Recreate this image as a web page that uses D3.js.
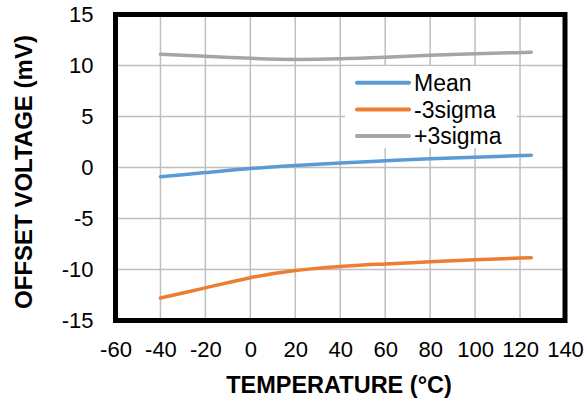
<!DOCTYPE html>
<html>
<head>
<meta charset="utf-8">
<script src="https://cdn.jsdelivr.net/npm/d3@7"></script>
<style>
  body { margin: 0; background: #fff; }
  text { font-family: "Liberation Sans", Arial, sans-serif; }
</style>
</head>
<body>
<svg id="chart" width="587" height="402"></svg>
<script>
// temperature points (°C)
var temps = [-40, -20, 0, 20, 40, 60, 80, 100, 125];
// offset voltage (mV)
var meanVals  = [-0.9, -0.5, -0.1, 0.2, 0.45, 0.65, 0.85, 1.0, 1.2];
var minusVals = [-12.8, -11.8, -10.8, -10.1, -9.7, -9.45, -9.25, -9.05, -8.85];
var plusVals  = [11.1, 10.9, 10.7, 10.6, 10.65, 10.8, 11.0, 11.15, 11.3];

var seriesNames = ["Mean", "-3sigma", "+3sigma"];
var seriesColors = ["#5b9bd5", "#ed7d31", "#a5a5a5"];

var xTicks = [-60, -40, -20, 0, 20, 40, 60, 80, 100, 120, 140];
var yTicks = [-15, -10, -5, 0, 5, 10, 15];

var svg = d3.select("#chart");
var plotLeft = 115.5, plotRight = 565, plotTop = 14.5, plotBottom = 320.5;

var x = d3.scaleLinear().domain([-60, 140]).range([plotLeft, plotRight]);
var y = d3.scaleLinear().domain([-15, 15]).range([plotBottom, plotTop]);

// gridlines
svg.append("g")
  .selectAll("line")
  .data(xTicks)
  .join("line")
  .attr("x1", d => x(d)).attr("x2", d => x(d))
  .attr("y1", plotTop).attr("y2", plotBottom)
  .attr("stroke", "#bfbfbf").attr("stroke-width", 1.5);
svg.append("g")
  .selectAll("line")
  .data(yTicks)
  .join("line")
  .attr("x1", plotLeft).attr("x2", plotRight)
  .attr("y1", d => y(d)).attr("y2", d => y(d))
  .attr("stroke", "#bfbfbf").attr("stroke-width", 1.5);

// axes (labels only, border drawn separately); plain hyphen for negatives
var xAxis = svg.append("g")
  .attr("transform", "translate(0," + plotBottom + ")")
  .call(d3.axisBottom(x).tickValues(xTicks).tickFormat(d => String(d)).tickSize(0).tickPadding(21));
var yAxis = svg.append("g")
  .attr("transform", "translate(" + plotLeft + ",0)")
  .call(d3.axisLeft(y).tickValues(yTicks).tickFormat(d => String(d)).tickSize(0).tickPadding(22));
[xAxis, yAxis].forEach(a => {
  a.select(".domain").remove();
  a.attr("font-size", 22).attr("font-family", null);
  a.selectAll("text").attr("fill", "#000");
});

// series lines
var line = d3.line()
  .x((d, i) => x(temps[i]))
  .y(d => y(d))
  .curve(d3.curveMonotoneX);

var allSeries = [meanVals, minusVals, plusVals];
svg.append("g")
  .selectAll("path")
  .data(allSeries)
  .join("path")
  .attr("d", d => line(d))
  .attr("fill", "none")
  .attr("stroke", (d, i) => seriesColors[i])
  .attr("stroke-width", 3.5)
  .attr("stroke-linecap", "round");

// legend
var lg = svg.append("g");
lg.append("rect")
  .attr("x", 345).attr("y", 66).attr("width", 172).attr("height", 82)
  .attr("fill", "#fff");
var items = lg.selectAll("g")
  .data(seriesNames)
  .join("g")
  .attr("transform", (d, i) => "translate(0," + (82.7 + i * 26.7) + ")");
items.append("line")
  .attr("x1", 357).attr("x2", 409)
  .attr("stroke", (d, i) => seriesColors[i])
  .attr("stroke-width", 4).attr("stroke-linecap", "round");
items.append("text")
  .attr("x", 414).attr("dy", "0.36em")
  .attr("font-size", 23)
  .text(d => d);

// plot border
svg.append("rect")
  .attr("x", plotLeft).attr("y", plotTop)
  .attr("width", plotRight - plotLeft).attr("height", plotBottom - plotTop)
  .attr("fill", "none").attr("stroke", "#000").attr("stroke-width", 5);

// axis titles
svg.append("text")
  .attr("x", 339).attr("y", 393)
  .attr("text-anchor", "middle")
  .attr("font-size", 23.5).attr("font-weight", "bold")
  .text("TEMPERATURE (°C)");
svg.append("text")
  .attr("transform", "translate(32,172) rotate(-90)")
  .attr("text-anchor", "middle")
  .attr("font-size", 24).attr("font-weight", "bold")
  .text("OFFSET VOLTAGE (mV)");
</script>
</body>
</html>
